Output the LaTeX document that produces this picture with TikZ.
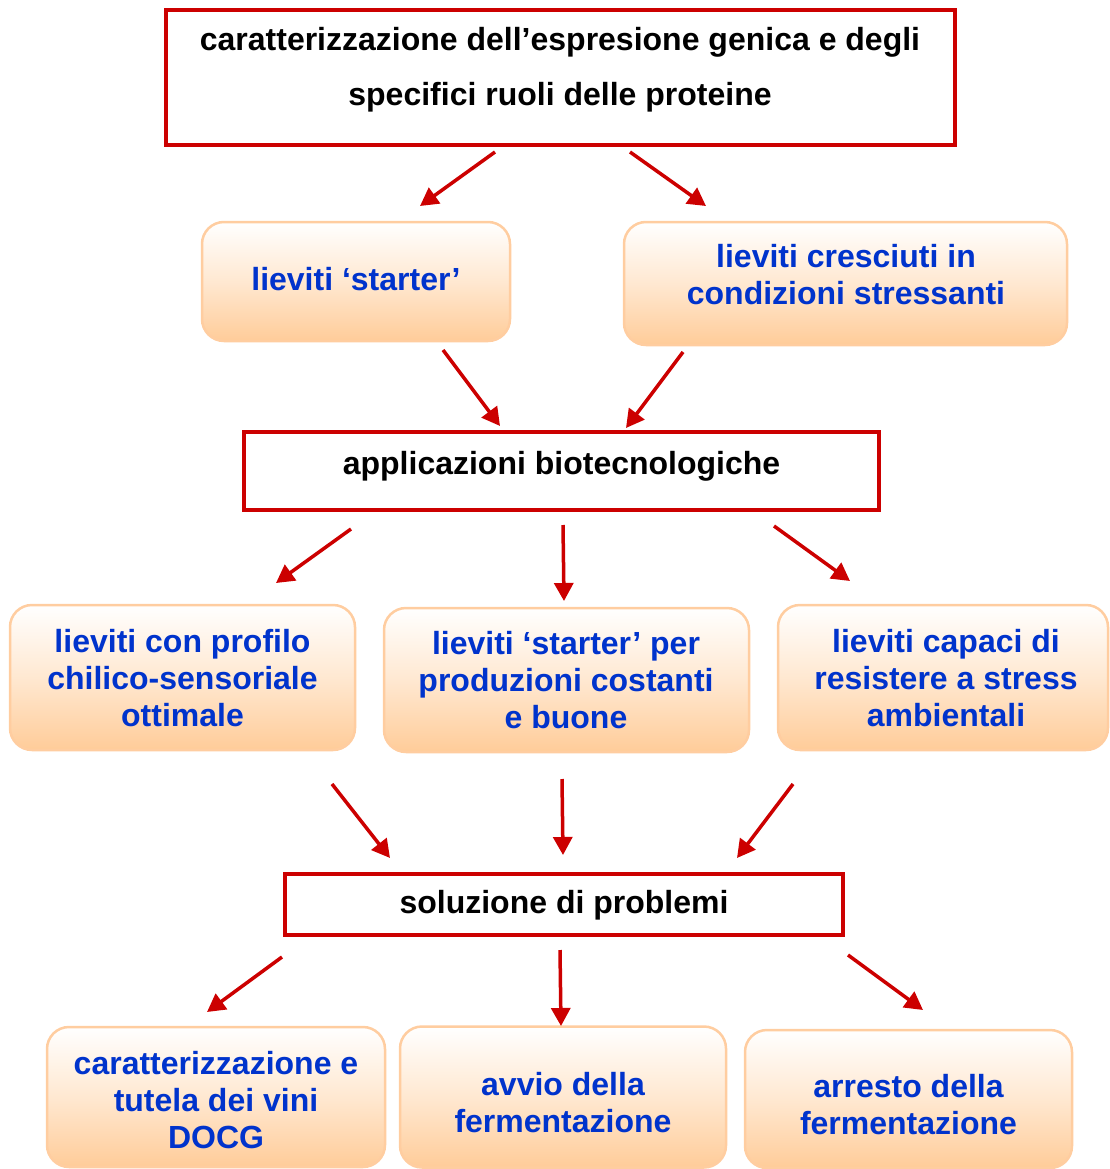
\documentclass[tikz,border=0pt]{standalone}
\usepackage{fontspec}
\setmainfont{Liberation Sans}
\usetikzlibrary{arrows.meta}
\definecolor{boxred}{RGB}{204,0,0}
\definecolor{peach}{RGB}{255,204,153}
\definecolor{peachline}{RGB}{255,205,160}
\definecolor{txtblue}{RGB}{0,51,204}
\tikzset{
  redbox/.style={draw=boxred, line width=3.5pt, fill=white, inner sep=0pt},
  softbox/.style={draw=peachline, line width=2.5pt, rounded corners=22pt, top color=white, bottom color=peach, inner sep=0pt, middle color=peach!45},
  bluetxt/.style={text=txtblue, font=\fontsize{32}{37}\selectfont\bfseries, align=center, inner sep=0pt},
  blacktxt/.style={text=black, font=\fontsize{32}{55}\selectfont\bfseries, align=center, inner sep=0pt},
  redarrow/.style={draw=boxred, line width=3.5pt, -{Triangle[length=18pt,width=19pt]}}
}
\begin{document}
\begin{tikzpicture}[x=1pt,y=-1pt]
\useasboundingbox (0,0) rectangle (1110,1169);
% top box
\node[redbox, minimum width=789pt, minimum height=135pt] (top) at (560.5,77.5) {};
\node[blacktxt] (toptxt) at (560,70) {caratterizzazione dell’espresione genica e degli\\specifici ruoli delle proteine};
% level 2
\node[softbox, minimum width=308pt, minimum height=119pt] (starter) at (356,281.5) {};
\node[bluetxt] (startertxt) at (356,279) {lieviti ‘starter’};
\node[softbox, minimum width=443pt, minimum height=123pt] (stress) at (845.5,283.5) {};
\node[bluetxt] (stresstxt) at (846,275) {lieviti cresciuti in\\condizioni stressanti};
% applicazioni
\node[redbox, minimum width=635pt, minimum height=78pt] (appl) at (561.5,471) {};
\node[blacktxt] (appltxt) at (561.5,466) {applicazioni biotecnologiche};
% level 3
\node[softbox, minimum width=345pt, minimum height=145pt] (profilo) at (182.5,677.5) {};
\node[bluetxt] (profilotxt) at (182.5,678) {lieviti con profilo\\chilico-sensoriale\\ottimale};
\node[softbox, minimum width=365pt, minimum height=144pt] (prod) at (566.5,680) {};
\node[bluetxt] (prodtxt) at (566,680) {lieviti ‘starter’ per\\produzioni costanti\\e buone};
\node[softbox, minimum width=330pt, minimum height=145pt] (resist) at (943,677.5) {};
\node[bluetxt] (resisttxt) at (946,678) {lieviti capaci di\\resistere a stress\\ambientali};
% soluzione
\node[redbox, minimum width=558pt, minimum height=61pt] (sol) at (564,904.5) {};
\node[blacktxt] (soltxt) at (564,905) {soluzione di problemi};
% bottom
\node[softbox, minimum width=338pt, minimum height=140pt] (docg) at (216,1097) {};
\node[bluetxt] (docgtxt) at (216,1100) {caratterizzazione e\\tutela dei vini\\DOCG};
\node[softbox, minimum width=326pt, minimum height=141pt] (avvio) at (563,1097) {};
\node[bluetxt] (avviotxt) at (563,1103) {avvio della\\fermentazione};
\node[softbox, minimum width=327pt, minimum height=138pt] (arresto) at (908.5,1099) {};
\node[bluetxt] (arrestotxt) at (908.5,1105) {arresto della\\fermentazione};
% arrow coordinates
\coordinate (a1s) at (495,152); \coordinate (a1e) at (420,206);
\coordinate (a2s) at (630,152); \coordinate (a2e) at (706,206);
\coordinate (a3s) at (443,350); \coordinate (a3e) at (500,426);
\coordinate (a4s) at (683,352); \coordinate (a4e) at (626,428);
\coordinate (a5s) at (351,529); \coordinate (a5e) at (276,583);
\coordinate (a6s) at (563,525); \coordinate (a6e) at (564,601);
\coordinate (a7s) at (774,526); \coordinate (a7e) at (850,581);
\coordinate (a8s) at (332,784); \coordinate (a8e) at (390,858);
\coordinate (a9s) at (562,779); \coordinate (a9e) at (563,855);
\coordinate (a10s) at (793,784); \coordinate (a10e) at (737,858);
\coordinate (a11s) at (282,957); \coordinate (a11e) at (207,1012);
\coordinate (a12s) at (560,950); \coordinate (a12e) at (561,1026);
\coordinate (a13s) at (848,955); \coordinate (a13e) at (923,1010);
\foreach \i in {1,...,13} {\draw[redarrow] (a\i s) -- (a\i e);}
\end{tikzpicture}
\end{document}
